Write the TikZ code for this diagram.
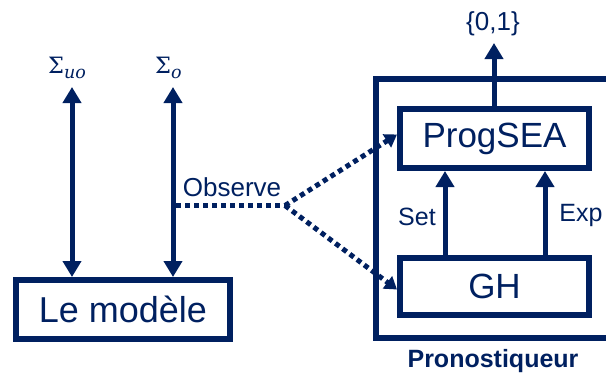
\documentclass[tikz,border=0pt]{standalone}
\usepackage{fontspec}
\setmainfont{Liberation Sans}
\newfontfamily\gfont{DejaVu Serif}
\usetikzlibrary{arrows.meta}
\definecolor{navy}{RGB}{0,32,96}
\newcommand{\sig}[1]{{\gfont\fontsize{22.5}{26}\selectfont Σ\raisebox{-5pt}{\fontsize{17.5}{20}\selectfont\itshape #1}}}
\begin{document}
\begin{tikzpicture}[x=1pt,y=-1pt,
  lbl/.style={text=navy,inner sep=0pt},
  box/.style={draw=navy,line width=6pt,inner sep=0pt,text=navy},
  arr/.style={draw=navy,line width=5pt,-{Triangle[width=18pt,length=16pt]}},
  darr/.style={draw=navy,line width=5pt,{Triangle[width=18pt,length=16pt]}-{Triangle[width=18pt,length=16pt]}},
  dots/.style={draw=navy,line width=5pt,dash pattern=on 5pt off 4pt},
  dtip/.style={-{Triangle[width=15pt,length=12pt]}}]
\useasboundingbox (0,0) rectangle (606,378);
% outer Pronostiqueur box (cropped at the right)
\node[box,minimum width=264pt,minimum height=259pt] (pro) at (508,208.5) {};
\node[lbl,font=\bfseries\fontsize{25}{28}\selectfont] (prolbl) at (493,361) {Pronostiqueur};
% inner boxes
\node[box,minimum width=189pt,minimum height=59pt,font=\fontsize{35}{38}\selectfont] (ps) at (494.5,138.5) {ProgSEA};
\node[box,minimum width=189pt,minimum height=57pt,font=\fontsize{35}{38}\selectfont] (gh) at (494.5,286.5) {GH};
\node[box,minimum width=214pt,minimum height=59pt,font=\fontsize{36}{38}\selectfont] (lm) at (123,309.5) {Le modèle};
% labels
\node[lbl,anchor=base west] (suo) at (48,73) {\sig{uo}};
\node[lbl,anchor=base west] (so) at (155,73) {\sig{o}};
\node[lbl,font=\fontsize{26}{28}\selectfont] (obslbl) at (232,187) {Observe};
\node[lbl,font=\fontsize{26}{28}\selectfont] (out) at (493,24) {\{0,1\}};
\node[lbl,font=\fontsize{25}{28}\selectfont] (setl) at (417,217) {Set};
\node[lbl,font=\fontsize{25}{28}\selectfont] (expl) at (581,215) {Exp};
% coordinates
\coordinate (uotop) at (72,87);
\coordinate (otop) at (173,87);
\coordinate (obs) at (176,205.5);
\coordinate (j) at (285,205.5);
\coordinate (outtip) at (494,43);
% arrows
\draw[darr] (uotop) -- (uotop |- lm.north);
\draw[darr] (otop) -- (otop |- lm.north);
\draw[arr] (ps.north -| outtip) -- (outtip);
\draw[arr] (gh.north -| 445,0) -- (ps.south -| 445,0);
\draw[arr] (gh.north -| 545,0) -- (ps.south -| 545,0);
% dotted observation lines
\draw[dots] (obs) -- (j);
\draw[dots,dtip] (j) -- ([yshift=4pt]ps.west);
\draw[dots,dtip] (j) -- ([yshift=-3pt]gh.west);
\end{tikzpicture}
\end{document}
